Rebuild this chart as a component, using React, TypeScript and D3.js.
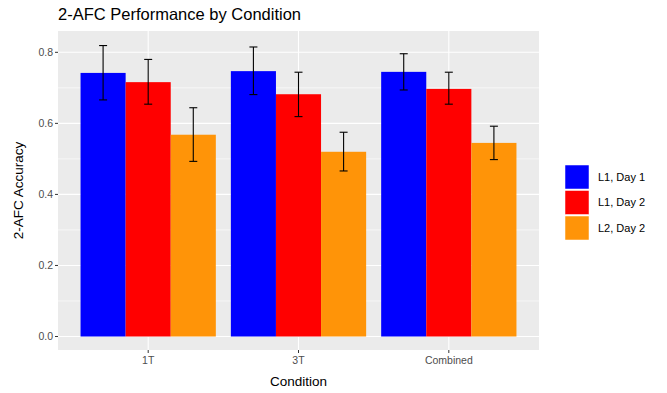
import React from 'react';
import * as d3 from 'd3';

const conditions = ['1T', '3T', 'Combined'];
const groups = ['L1, Day 1', 'L1, Day 2', 'L2, Day 2'];
const colors = ['#0000ff', '#ff0000', '#ff9408'];

// mean accuracy per condition, one array per group
const l1Day1 = [0.742, 0.747, 0.745];
const l1Day2 = [0.716, 0.682, 0.697];
const l2Day2 = [0.568, 0.520, 0.545];
// error bar ends
const l1Day1Low = [0.666, 0.681, 0.694];
const l1Day1High = [0.819, 0.815, 0.796];
const l1Day2Low = [0.654, 0.619, 0.654];
const l1Day2High = [0.780, 0.744, 0.744];
const l2Day2Low = [0.493, 0.466, 0.498];
const l2Day2High = [0.644, 0.575, 0.592];

const yTicks = [0, 0.2, 0.4, 0.6, 0.8];
const yMinor = [0.1, 0.3, 0.5, 0.7];

const means = [l1Day1, l1Day2, l2Day2];
const lows = [l1Day1Low, l1Day2Low, l2Day2Low];
const highs = [l1Day1High, l1Day2High, l2Day2High];

export default function App() {
  const width = 667;
  const height = 393;
  const panel = { left: 58, top: 31, right: 539, bottom: 350 };

  // ggplot-style discrete axis: 0.6 unit expansion each side
  const x = d3.scalePoint().domain(conditions).range([panel.left, panel.right]).padding(0.6);
  const step = x.step();
  const groupWidth = step * 0.9;
  const xInner = d3.scaleBand().domain(groups).range([0, groupWidth]);
  const center = (c: string) => x(c) as number;

  const y = d3.scaleLinear().domain([-0.038, 0.86]).range([panel.bottom, panel.top]);

  const bars: any[] = [];
  groups.forEach((g, gi) => {
    conditions.forEach((c, ci) => {
      bars.push({ g, gi, c, v: means[gi][ci], lo: lows[gi][ci], hi: highs[gi][ci] });
    });
  });

  const font = 'Liberation Sans, Arial, sans-serif';
  const capHalf = 4;

  return (
    <svg width={width} height={height} style={{ position: 'absolute', left: 0, top: 0 }} fontFamily={font}>
      <rect width={width} height={height} fill="#fff" />
      <text x={panel.left} y={20} fontSize={16.5} fill="#000">2-AFC Performance by Condition</text>

      <rect x={panel.left} y={panel.top} width={panel.right - panel.left} height={panel.bottom - panel.top} fill="#ebebeb" />
      {yMinor.map(t => (
        <line key={'m' + t} x1={panel.left} x2={panel.right} y1={y(t)} y2={y(t)} stroke="#fff" strokeWidth={0.6} />
      ))}
      {yTicks.map(t => (
        <line key={'g' + t} x1={panel.left} x2={panel.right} y1={y(t)} y2={y(t)} stroke="#fff" strokeWidth={1.1} />
      ))}
      {conditions.map(c => (
        <line key={'v' + c} x1={center(c)} x2={center(c)} y1={panel.top} y2={panel.bottom} stroke="#fff" strokeWidth={1.1} />
      ))}

      {bars.map(b => {
        const x0 = center(b.c) - groupWidth / 2 + (xInner(b.g) as number);
        return (
          <rect key={b.g + b.c} x={x0} y={y(b.v)} width={xInner.bandwidth()} height={y(0) - y(b.v)} fill={colors[b.gi]} />
        );
      })}
      {bars.map(b => {
        const cx = center(b.c) - groupWidth / 2 + (xInner(b.g) as number) + xInner.bandwidth() / 2;
        return (
          <g key={'e' + b.g + b.c} stroke="#000" strokeWidth={1.1}>
            <line x1={cx} x2={cx} y1={y(b.lo)} y2={y(b.hi)} />
            <line x1={cx - capHalf} x2={cx + capHalf} y1={y(b.lo)} y2={y(b.lo)} />
            <line x1={cx - capHalf} x2={cx + capHalf} y1={y(b.hi)} y2={y(b.hi)} />
          </g>
        );
      })}

      {yTicks.map(t => (
        <g key={'t' + t}>
          <line x1={panel.left - 3} x2={panel.left} y1={y(t)} y2={y(t)} stroke="#333" strokeWidth={1} />
          <text x={panel.left - 5} y={y(t)} dy="0.35em" textAnchor="end" fontSize={10.5} fill="#4d4d4d">{t.toFixed(1)}</text>
        </g>
      ))}
      {conditions.map(c => (
        <g key={'xt' + c}>
          <line x1={center(c)} x2={center(c)} y1={panel.bottom} y2={panel.bottom + 3} stroke="#333" strokeWidth={1} />
          <text x={center(c)} y={panel.bottom + 14} textAnchor="middle" fontSize={10.5} fill="#4d4d4d">{c}</text>
        </g>
      ))}
      <text x={(panel.left + panel.right) / 2} y={386} textAnchor="middle" fontSize={13.5} fill="#000">Condition</text>
      <text transform={`translate(23,${(panel.top + panel.bottom) / 2}) rotate(-90)`} textAnchor="middle" fontSize={13.5} fill="#000">2-AFC Accuracy</text>

      {groups.map((g, i) => (
        <g key={'l' + g} transform={`translate(565,${165 + i * 25.5})`}>
          <rect width={24} height={24} fill={colors[i]} stroke="#fff" strokeWidth={0.5} />
          <text x={33} y={12} dy="0.35em" fontSize={11} fill="#000">{g}</text>
        </g>
      ))}
    </svg>
  );
}
